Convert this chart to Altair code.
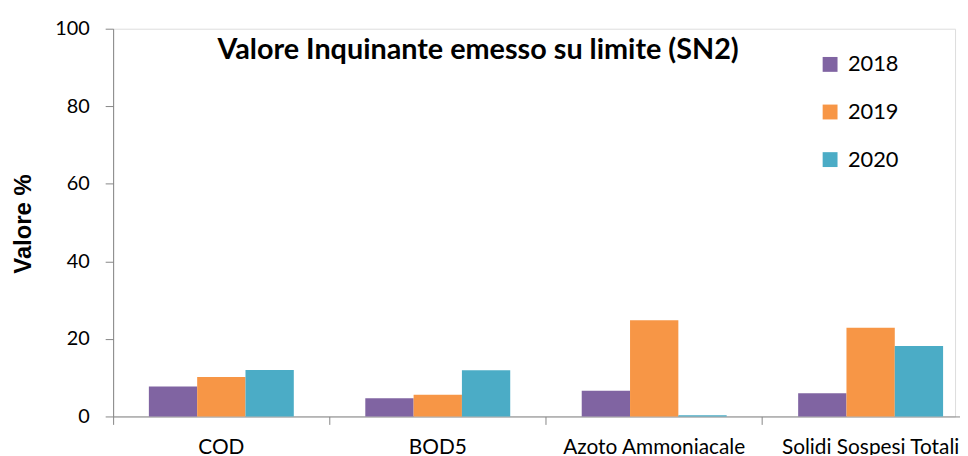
import altair as alt
import pandas as pd

categories = ["COD", "BOD5", "Azoto Ammoniacale", "Solidi Sospesi Totali"]
years = ["2018", "2019", "2020"]
v2018 = [7.7, 4.7, 6.6, 6.0]
v2019 = [10.2, 5.6, 24.8, 22.9]
v2020 = [12.0, 11.9, 0.3, 18.2]
colors = ["#8064A2", "#F79646", "#4BACC6"]
title_text = "Valore Inquinante emesso su limite (SN2)"
y_title = "Valore %"

rows = []
for y, vals in zip(years, [v2018, v2019, v2020]):
    for c, v in zip(categories, vals):
        rows.append({"cat": c, "year": y, "val": v})
df = pd.DataFrame(rows)

FONT = "Lato"

bars = alt.Chart(df).mark_bar().encode(
    x=alt.X("cat:N", sort=categories, title=None,
            scale=alt.Scale(range=[0, 873], paddingInner=0, paddingOuter=0),
            axis=alt.Axis(labelAngle=0, bandPosition=0, tickSize=8, labelPadding=12,
                          labelFontSize=21, labelColor="#000000", labelFont=FONT,
                          domainColor="#868686", tickColor="#868686", labelBound=False,
                          labelOverlap=False, labelLimit=400)),
    xOffset=alt.XOffset("year:N", sort=years,
                        scale=alt.Scale(paddingOuter=0.74, paddingInner=0)),
    y=alt.Y("val:Q", title=y_title,
            scale=alt.Scale(domain=[0, 100], nice=False),
            axis=alt.Axis(values=[0, 20, 40, 60, 80, 100], tickSize=8, labelPadding=16,
                          labelFontSize=20, labelColor="#000000", labelFont=FONT,
                          domainColor="#868686", tickColor="#868686", grid=False,
                          titleFont="Liberation Sans", titleFontSize=24, titleFontWeight="bold",
                          titleColor="#000000", titleX=-90, titleY=196.5,
                          titleAngle=270, titleBaseline="middle", titleAlign="center")),
    color=alt.Color("year:N", sort=years,
                    scale=alt.Scale(domain=years, range=colors),
                    legend=alt.Legend(title=None, orient="none", legendX=712, legendY=25,
                                      symbolType="square", symbolSize=225,
                                      symbolStrokeWidth=0, labelFontSize=22,
                                      labelFont=FONT, labelColor="#000000",
                                      labelOffset=7, rowPadding=26, padding=0)),
)

title = alt.Chart(pd.DataFrame({"t": [title_text]})).mark_text(
    font=FONT, fontSize=29, fontWeight="bold", color="#000000",
    align="center", baseline="middle"
).encode(text="t:N", x=alt.value(368), y=alt.value(22))

chart = alt.layer(bars, title).properties(
    width=849, height=391,
    autosize=alt.AutoSizeParams(type="none"),
    padding={"left": 106, "top": 19, "right": 5, "bottom": 37},
).configure_view(stroke=None).configure(background="#ffffff")

chart.save("out.html", embed_options={"renderer": "svg", "actions": False})
